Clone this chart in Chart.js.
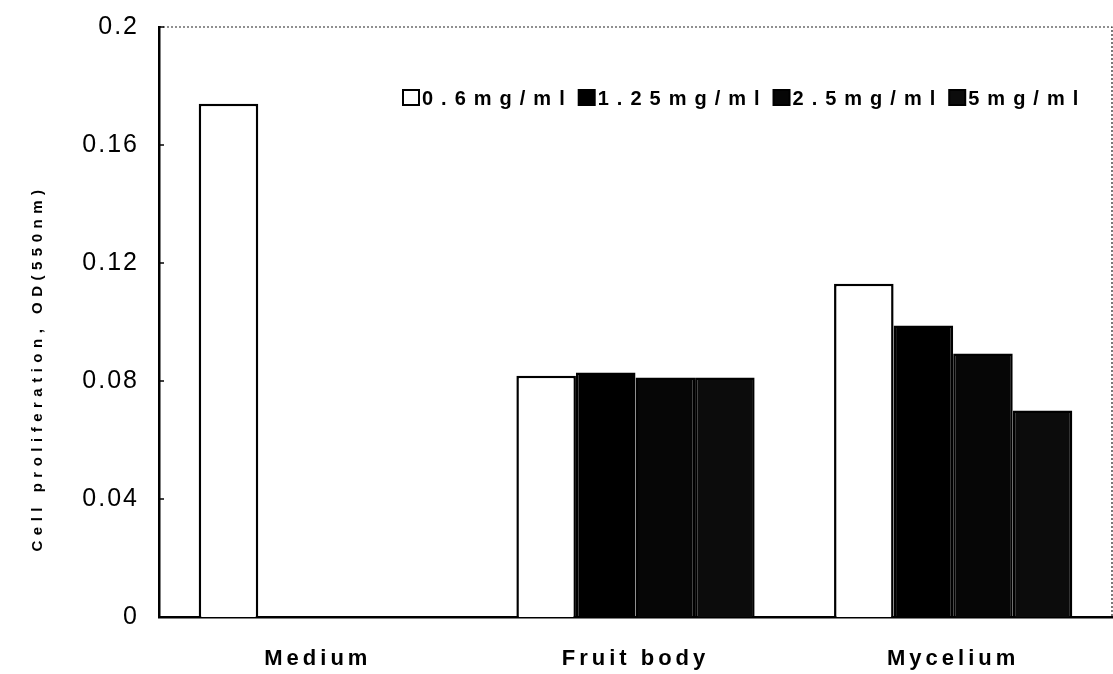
<!DOCTYPE html>
<html>
<head>
<meta charset="utf-8">
<script src="https://cdn.jsdelivr.net/npm/chart.js@4.4.1/dist/chart.umd.min.js"></script>
<style>
  html, body { margin: 0; padding: 0; background: #fff; }
  #wrap { width: 1113px; height: 674px; position: relative; }
</style>
</head>
<body>
<div id="wrap"><canvas id="c"></canvas></div>
<script>
// ---- data ----
const categories = ['Medium', 'Fruit body', 'Mycelium'];
const seriesNames = ['0.6mg/ml', '1.25mg/ml', '2.5mg/ml', '5mg/ml'];
const s06 = [0.174, 0.0818, 0.113];
const s125 = [null, 0.0829, 0.0988];
const s25 = [null, 0.0812, 0.0893];
const s5 = [null, 0.0812, 0.070];
const yTicks = [0, 0.04, 0.08, 0.12, 0.16, 0.2];
const yTitle = 'Cell proliferation, OD(550nm)';

const fills = ['#ffffff', '#000000', '#060606', '#0c0c0c'];
const seriesValues = [s06, s125, s25, s5];

const PLOT_LEFT = 159, PLOT_TOP = 27, PLOT_RIGHT = 1112, PLOT_BOTTOM = 617;

function patchSpacing(fn, spacing, dy) {
  return function () {
    const ctx = this.ctx;
    ctx.save();
    ctx.letterSpacing = spacing;
    if (dy) ctx.translate(0, dy);
    fn.apply(this, arguments);
    ctx.restore();
  };
}

const framePlugin = {
  id: 'frame',
  beforeDraw(chart) {
    const x = chart.scales.x, y = chart.scales.y;
    if (!x._patched) { x.drawLabels = patchSpacing(x.drawLabels, '4px'); x._patched = true; }
    if (!y._patched) {
      y.drawLabels = patchSpacing(y.drawLabels, '2px');
      y.drawTitle = patchSpacing(y.drawTitle, '5.5px', 46);
      y._patched = true;
    }
  },
  afterDraw(chart) {
    const ctx = chart.ctx, a = chart.chartArea, y = chart.scales.y;
    ctx.save();
    // dotted top and right frame
    ctx.strokeStyle = '#222';
    ctx.lineWidth = 1.2;
    ctx.setLineDash([2, 2]);
    ctx.beginPath();
    ctx.moveTo(a.left, a.top);
    ctx.lineTo(a.right, a.top);
    ctx.lineTo(a.right, a.bottom);
    ctx.stroke();
    ctx.setLineDash([]);
    // inside tick marks on y axis
    ctx.lineWidth = 1.5;
    ctx.strokeStyle = '#000';
    yTicks.forEach(v => {
      const py = y.getPixelForValue(v);
      ctx.beginPath();
      ctx.moveTo(a.left, py);
      ctx.lineTo(a.left + 5, py);
      ctx.stroke();
    });
    // legend
    ctx.font = 'bold 20px "Liberation Sans", Arial, sans-serif';
    ctx.letterSpacing = '8px';
    ctx.textBaseline = 'middle';
    ctx.textAlign = 'left';
    let lx = 403;
    const ly = 98;
    chart.data.datasets.forEach((ds, i) => {
      ctx.fillStyle = ds.backgroundColor;
      ctx.fillRect(lx, ly - 8, 16, 15);
      ctx.lineWidth = 2;
      ctx.strokeStyle = '#000';
      ctx.strokeRect(lx, ly - 8, 16, 15);
      ctx.fillStyle = '#000';
      const tx = lx + 19;
      ctx.fillText(ds.label, tx, ly + 1);
      lx = tx + ctx.measureText(ds.label).width + 6;
    });
    ctx.restore();
  }
};

const datasets = seriesNames.map((name, i) => ({
  label: name,
  data: seriesValues[i],
  backgroundColor: fills[i],
  borderColor: '#000',
  borderWidth: 2.5,
  categoryPercentage: 0.75,
  barPercentage: 1.0
}));

new Chart(document.getElementById('c'), {
  type: 'bar',
  data: { labels: categories, datasets },
  options: {
    responsive: true,
    maintainAspectRatio: false,
    animation: false,
    layout: { padding: { top: PLOT_TOP, right: 1113 - PLOT_RIGHT, left: 0, bottom: 0 } },
    plugins: { legend: { display: false }, tooltip: { enabled: false } },
    scales: {
      x: {
        grid: { display: false, drawTicks: false },
        border: { display: true, color: '#000', width: 2.5 },
        ticks: {
          color: '#000',
          padding: 29,
          font: { family: '"Liberation Sans", Arial, sans-serif', size: 22, weight: 'bold' }
        },
        afterFit(scale) {
          scale.height = 674 - PLOT_BOTTOM;
          scale.paddingLeft = 0; scale.paddingRight = 0;
        }
      },
      y: {
        min: 0,
        max: 0.2,
        grid: { display: false, drawTicks: false },
        border: { display: true, color: '#000', width: 2.5 },
        afterBuildTicks(scale) { scale.ticks = yTicks.map(v => ({ value: v })); },
        ticks: {
          color: '#000',
          padding: 20,
          callback: (v) => String(v),
          font: { family: '"Liberation Sans", Arial, sans-serif', size: 25 }
        },
        title: {
          display: true,
          text: yTitle,
          color: '#000',
          padding: { top: 29, bottom: 0 },
          font: { family: '"Liberation Sans", Arial, sans-serif', size: 15, weight: 'bold' }
        },
        afterFit(scale) {
          scale.width = PLOT_LEFT;
          scale.paddingTop = 0; scale.paddingBottom = 0;
        }
      }
    }
  },
  plugins: [framePlugin]
});
</script>
</body>
</html>
